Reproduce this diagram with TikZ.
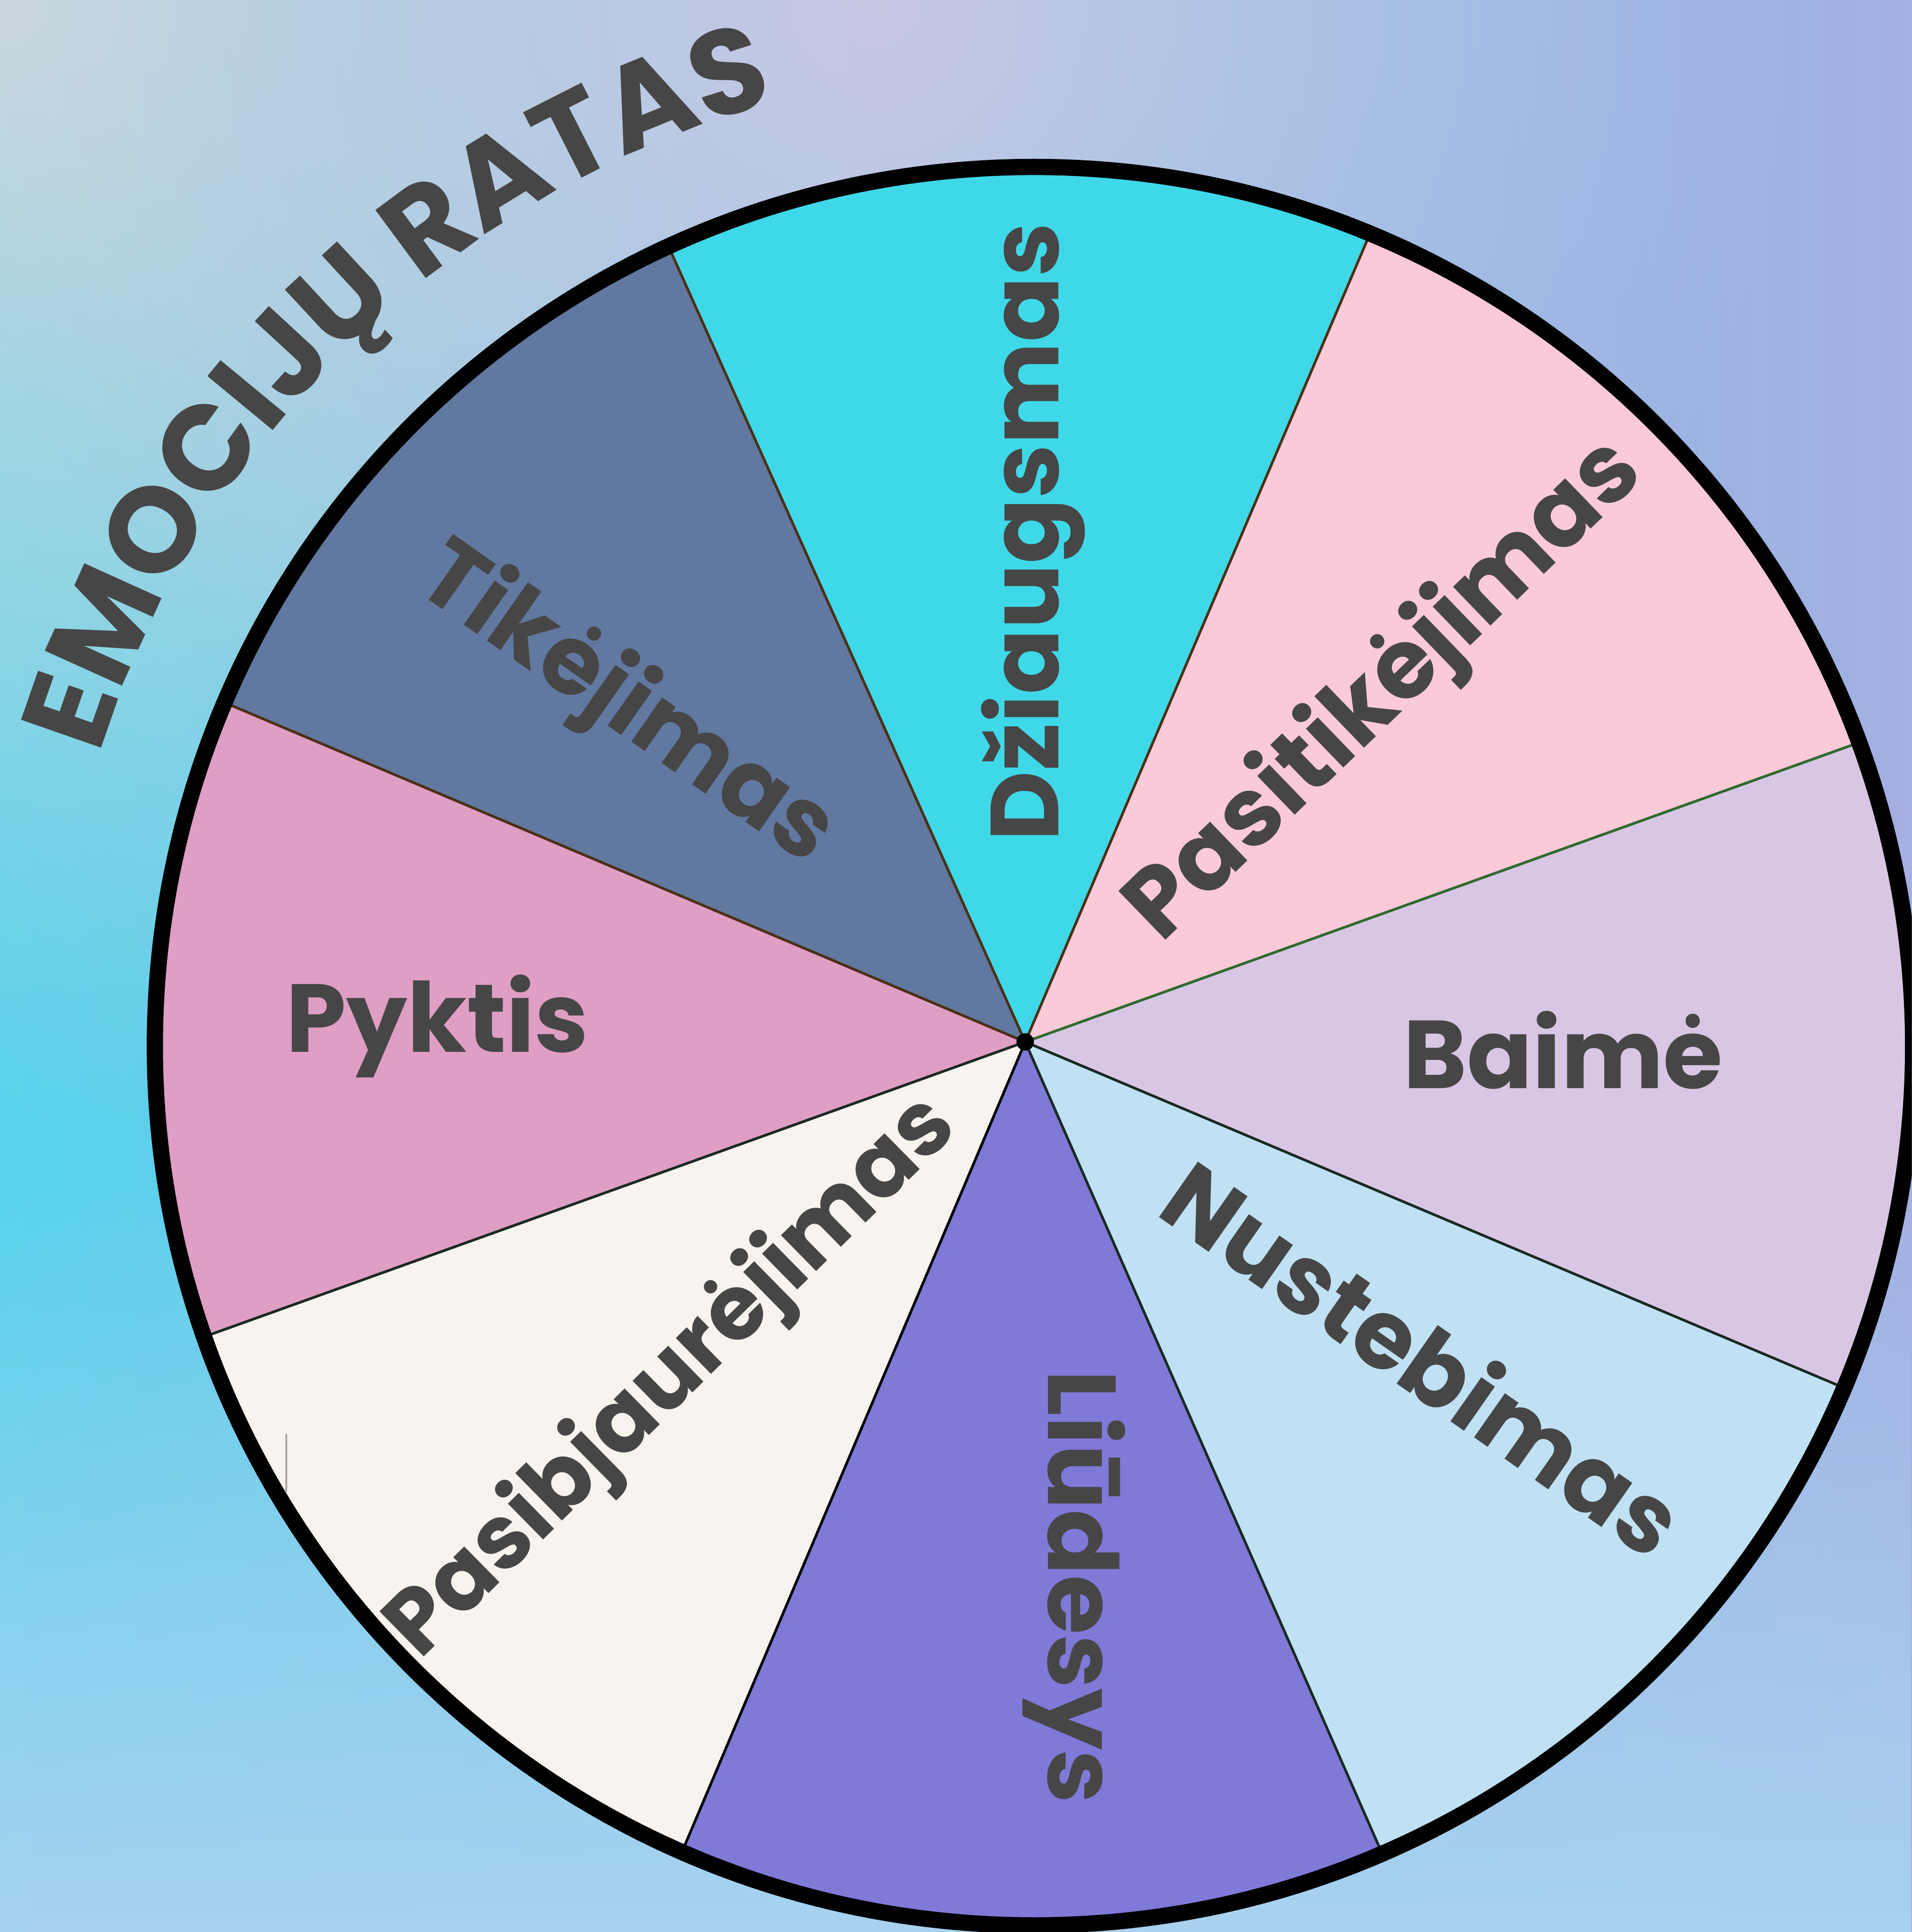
\documentclass[tikz,border=0pt]{standalone}
\usepackage{fontspec}
\newfontfamily\wheelfont{Poppins}
\usetikzlibrary{calc,decorations.text,fadings}

\definecolor{inkgray}{HTML}{464646}
\definecolor{bgcyan}{HTML}{58D2EC}
\definecolor{bgperi}{HTML}{A4AFE2}
\definecolor{bggray}{HTML}{CCD8DD}
\definecolor{bglav}{HTML}{C8C8E4}
\definecolor{bgbottom}{HTML}{A8D2F0}
\definecolor{baime}{HTML}{D9C6E4}
\definecolor{pasitik}{HTML}{FACAD8}
\definecolor{dziaug}{HTML}{3FD8E8}
\definecolor{tikej}{HTML}{6178A0}
\definecolor{pyktis}{HTML}{DF9EC4}
\definecolor{pasibj}{HTML}{F7F3EE}
\definecolor{liudes}{HTML}{7F79D8}
\definecolor{nusteb}{HTML}{C0E1F3}
\definecolor{spokegreen}{HTML}{2E6B2E}
\definecolor{spokebrown}{HTML}{4B3015}
\definecolor{spokedark}{HTML}{1A2A22}

\tikzfading[name=glow fade, inner color=transparent!0, outer color=transparent!100]
\tikzfading[name=rise fade, bottom color=transparent!0, top color=transparent!100]

\newcommand\ratasfont{\wheelfont\bfseries\fontsize{27.5}{27.5}\selectfont}
\def\R{7.04}

\begin{document}
\begin{tikzpicture}[
  emo/.style={font=\wheelfont\bfseries\fontsize{22}{22}\selectfont,
    text=inkgray,anchor=mid,inner sep=0pt},
  spoke/.style={line width=0.6pt}]
  \useasboundingbox (0,0) rectangle (15.31,15.47);
  \clip (0,0) rectangle (15.31,15.47);
  % backdrop
  \shade[left color=bgcyan,right color=bgperi] (0,0) rectangle (15.31,15.47);
  \fill[bgbottom,path fading=rise fade] (0,0) rectangle (15.31,6);
  \fill[bggray,path fading=glow fade] (0,15.47) circle (9);
  \fill[bglav,path fading=glow fade] (7,15.47) circle (7.5);

  \coordinate (C) at (8.28,7.093);
  \coordinate (H) at (8.21,7.127);

  % sectors
  \foreach \a/\b/\col in {-22.87/20.2/baime,20.2/67.53/pasitik,
      67.53/114.56/dziaug,114.56/157/tikej,157/199.3/pyktis,
      199.3/246.4/pasibj,246.4/293.33/liudes,293.33/337.13/nusteb}
    \fill[\col] (H) -- ($(C)+(\a:\R)$) arc[start angle=\a,end angle=\b,radius=\R] -- cycle;
  \foreach \a/\col in {20.2/spokegreen,67.53/spokebrown,114.56/spokebrown,
      157/spokebrown,199.3/spokedark,246.4/black,293.33/spokedark,337.13/spokedark}
    \draw[spoke,\col] (H) -- ($(C)+(\a:\R)$);
  \draw[line width=0.13cm] (C) circle (\R);
  \fill (H) circle (0.07);
  \draw[gray!70,line width=0.4pt] (2.293,3.527) -- (2.293,3.987);

  % labels
  \node[emo,rotate=-35] (tikejimas) at (4.93,9.71) {Tikėjimas};
  \node[emo,rotate=90] (dziaugsmas) at (8.40,11.21) {Džiaugsmas};
  \node[emo,rotate=44] (pasitikejimas) at (11.187,9.84) {Pasitikėjimas};
  \node[emo] (baime) at (12.518,6.83) {Baimė};
  \node[emo,rotate=-35] (nustebimas) at (11.275,4.42) {Nustebimas};
  \node[emo,rotate=-90] (liudesys) at (8.47,2.764) {Liūdesys};
  \node[emo,rotate=44.5,font=\wheelfont\bfseries\fontsize{20.5}{20.5}\selectfont]
    (pasibjaurejimas) at (5.47,4.35) {Pasibjaurėjimas};
  \node[emo] (pyktis) at (3.502,7.12) {Pyktis};

  % title on an arc
  \path[decorate,decoration={text along path,text align=center,
      text color=inkgray,text={|\ratasfont|EMOCIJ{\char"0172} RATAS}}]
    ($(C)+(162:7.84)$) arc[start angle=162,end angle=106,radius=7.84];
\end{tikzpicture}
\end{document}
